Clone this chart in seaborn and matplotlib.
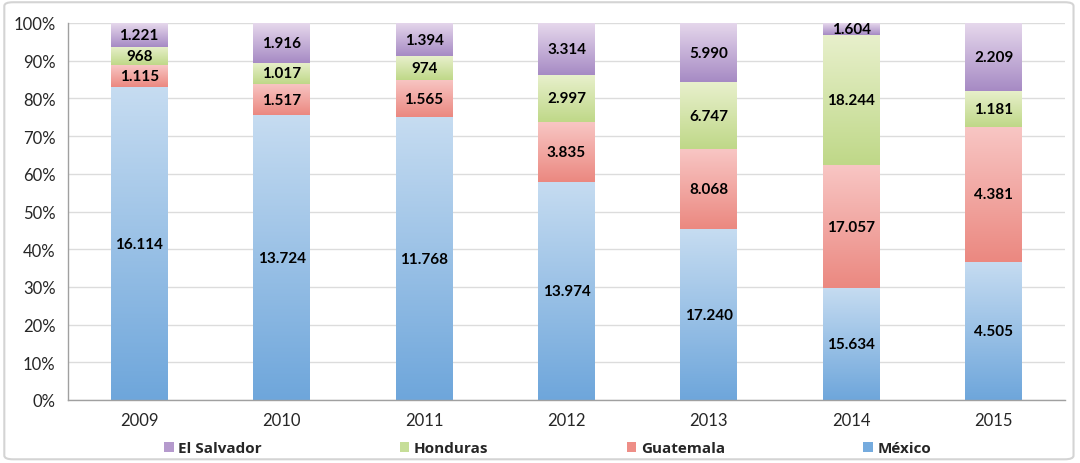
import numpy as np
import pandas as pd
import matplotlib
matplotlib.use("Agg")
import matplotlib.pyplot as plt
from matplotlib import font_manager
from matplotlib.colors import LinearSegmentedColormap
from matplotlib.patches import Patch, FancyBboxPatch
import seaborn as sns

# ── Data ───────────────────────────────────────────────────────
years = ["2009", "2010", "2011", "2012", "2013", "2014", "2015"]
mexico = [16114, 13724, 11768, 13974, 17240, 15634, 4505]
guatemala = [1115, 1517, 1565, 3835, 8068, 17057, 4381]
honduras = [968, 1017, 974, 2997, 6747, 18244, 1181]
el_salvador = [1221, 1916, 1394, 3314, 5990, 1604, 2209]

countries = ["México", "Guatemala", "Honduras", "El Salvador"]
legend_order = ["El Salvador", "Honduras", "Guatemala", "México"]

# gradient (top, bottom) per series, plus a flat colour for the legend
grad = {
    "México":      ("#c6dcf1", "#6ea6db"),
    "Guatemala":   ("#f8c6c4", "#eb8880"),
    "Honduras":    ("#e8f0cc", "#bfd888"),
    "El Salvador": ("#e6d8ec", "#a68ac4"),
}
flat = {"México": "#75abde", "Guatemala": "#ee8e87",
        "Honduras": "#c6de98", "El Salvador": "#b59acd"}

df = pd.DataFrame({"year": years, "México": mexico, "Guatemala": guatemala,
                   "Honduras": honduras, "El Salvador": el_salvador})
totals = df[countries].sum(axis=1)
shares = df[countries].div(totals, axis=0)


def pick_font(cands):
    names = {f.name for f in font_manager.fontManager.ttflist}
    for c in cands:
        if c in names:
            return c
    return "DejaVu Sans"


tick_font = pick_font(["Lato", "Open Sans", "DejaVu Sans"])
leg_font = pick_font(["Open Sans", "Lato", "DejaVu Sans"])
lab_font = pick_font(["Lato", "Open Sans", "DejaVu Sans"])

sns.set_style("white")
plt.rcParams["font.family"] = [lab_font, "DejaVu Sans"]

fig = plt.figure(figsize=(10.8, 4.64), dpi=100)
ax = fig.add_axes([68 / 1080, 1 - 401 / 464, (1065 - 68) / 1080, (401 - 24) / 464])

# ── Stacked bars ───────────────────────────────────────────────
bottom = np.zeros(len(years))
for c in countries:
    sns.barplot(x=df["year"], y=shares[c].values, bottom=bottom, color=flat[c],
                width=0.4, linewidth=0, ax=ax, zorder=2)
    cont = ax.containers[-1]
    top_c, bot_c = grad[c]
    cmap = LinearSegmentedColormap.from_list(c, [bot_c, top_c])
    for p in cont:
        x0, y0, w, h = p.get_x(), p.get_y(), p.get_width(), p.get_height()
        img = ax.imshow(np.linspace(0, 1, 256).reshape(-1, 1), cmap=cmap,
                        extent=[x0, x0 + w, y0, y0 + h], origin="lower",
                        aspect="auto", zorder=2.1)
        img.set_clip_path(p)
    vals = df[c].values
    ax.bar_label(cont, labels=[f"{v:,}".replace(",", ".") for v in vals],
                 label_type="center", fontsize=11, fontweight="bold",
                 color="black", zorder=3)
    bottom = bottom + shares[c].values

ax.set_xlim(-0.5, 6.5)
ax.set_ylim(0, 1)
ax.set_yticks(np.arange(0, 1.01, 0.1))
ax.set_yticklabels([f"{int(round(t * 100))}%" for t in np.arange(0, 1.01, 0.1)],
                   fontfamily=tick_font, fontsize=12)
ax.set_xticks(range(len(years)))
ax.set_xticklabels(years, fontfamily=tick_font, fontsize=12)
ax.set_xticks(np.arange(-0.5, 7, 1), minor=True)
ax.tick_params(axis="x", which="major", length=0, pad=9)
ax.tick_params(axis="x", which="minor", length=5, color="#a0a0a0", width=1)
ax.tick_params(axis="y", length=5, color="#a0a0a0", width=1, pad=4)
ax.set_xlabel("")
ax.set_ylabel("")
ax.grid(axis="y", color="#dcdcdc", linewidth=1, zorder=0)
ax.set_axisbelow(True)
for s in ["top", "right"]:
    ax.spines[s].set_visible(False)
for s in ["left", "bottom"]:
    ax.spines[s].set_color("#a0a0a0")
    ax.spines[s].set_linewidth(1)

# ── Legend ─────────────────────────────────────────────────────
handles = [Patch(facecolor=flat[c], edgecolor="none") for c in legend_order]
fig.legend(handles, legend_order, loc="center", bbox_to_anchor=(0.507, 0.032),
           ncol=4, frameon=False, handlelength=0.62, handleheight=0.62,
           handletextpad=0.3, columnspacing=9.05,
           prop={"family": leg_font, "weight": "bold", "size": 11})

# outer chart border
fig.patches.append(FancyBboxPatch((0.004, 0.008), 0.99, 0.985,
                                  boxstyle="round,pad=0,rounding_size=0.008",
                                  transform=fig.transFigure, fill=False,
                                  edgecolor="#d4d4d4", linewidth=1.5))

fig.savefig("out.png", dpi=100)
